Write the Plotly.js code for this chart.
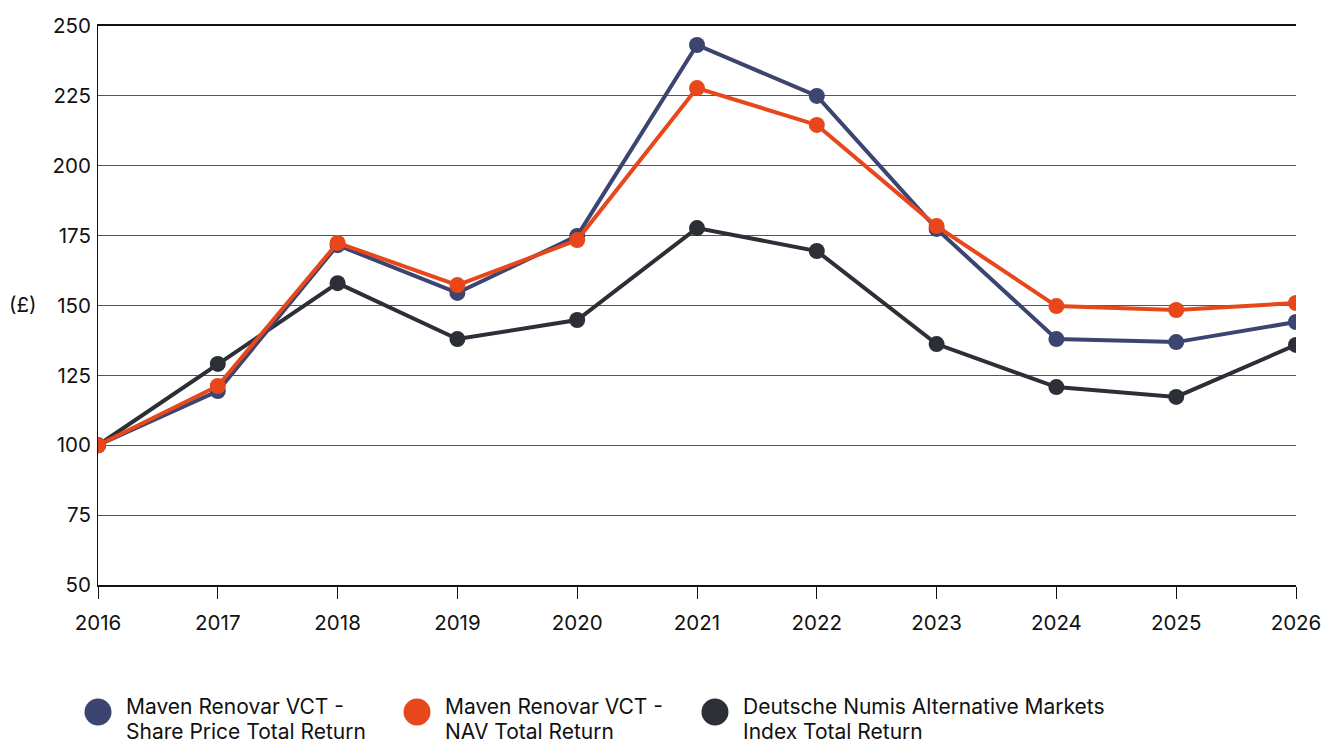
<!DOCTYPE html>
<html>
<head>
<meta charset="utf-8">
<script src="https://cdn.plot.ly/plotly-3.0.1.min.js"></script>
<style>html,body{margin:0;padding:0;background:#fff;}#chart{width:1325px;height:740px;}</style>
</head>
<body>
<div id="chart"></div>
<script>
const years = [2016, 2017, 2018, 2019, 2020, 2021, 2022, 2023, 2024, 2025, 2026];
const sharePrice = [100, 119.4, 171.6, 154.5, 174.9, 243.2, 225.0, 177.4, 138.0, 136.9, 144.1];
const navReturn = [100, 121.2, 172.4, 157.3, 173.4, 227.8, 214.6, 178.4, 149.8, 148.4, 150.9];
const indexReturn = [100, 129.1, 158.0, 138.0, 144.8, 177.7, 169.5, 136.2, 120.8, 117.3, 135.9];
const seriesNames = [
  ['Maven Renovar VCT -', 'Share Price Total Return'],
  ['Maven Renovar VCT -', 'NAV Total Return'],
  ['Deutsche Numis Alternative Markets', 'Index Total Return']
];
const colors = ['#3b456f', '#e8461b', '#2d2f37'];
const yTicks = [50, 75, 100, 125, 150, 175, 200, 225, 250];

const font = 'Inter, "Open Sans", sans-serif';
const FS = 20.5;
const LFS = 21;
function trace(y, i) {
  return {
    x: years, y: y, name: seriesNames[i].join(' '), type: 'scatter', mode: 'lines+markers',
    line: {color: colors[i], width: 4},
    marker: {color: colors[i], size: 16},
    showlegend: false
  };
}
const data = [trace(indexReturn, 2), trace(sharePrice, 0), trace(navReturn, 1)];

// manual legend (large circle symbols like the reference)
const legendX = [0, 0.2663, 0.515];   // paper x of each symbol centre
const legendY = -0.2272;               // paper y of symbol centre
const lineShift = [6, -19];            // pixel offsets of the two text lines
const shapes = [];
const annotations = [];
seriesNames.forEach((lines, i) => {
  shapes.push({
    type: 'circle', xref: 'paper', yref: 'paper',
    xsizemode: 'pixel', ysizemode: 'pixel',
    xanchor: legendX[i], yanchor: legendY,
    x0: -13.5, x1: 13.5, y0: -13.5, y1: 13.5,
    fillcolor: colors[i], line: {width: 0}
  });
  lines.forEach((txt, k) => {
    annotations.push({
      text: txt, xref: 'paper', yref: 'paper',
      x: legendX[i], y: legendY, xshift: 26, yshift: lineShift[k],
      xanchor: 'left', yanchor: 'middle', align: 'left', showarrow: false,
      font: {family: font, size: LFS, color: '#111'}
    });
  });
});
annotations.push({
  text: '(£)', xref: 'paper', yref: 'paper', x: -0.0634, y: 0.501,
  xanchor: 'center', yanchor: 'middle', showarrow: false,
  font: {family: font, size: FS, color: '#111'}
});

const layout = {
  width: 1325, height: 740,
  margin: {l: 98, r: 29, t: 26, b: 155},
  paper_bgcolor: '#fff', plot_bgcolor: '#fff',
  font: {family: font, size: FS, color: '#111'},
  showlegend: false,
  xaxis: {
    range: [2016, 2026], tickvals: years, ticktext: years.map(String),
    showgrid: false, zeroline: false,
    showline: true, linecolor: '#111', linewidth: 2, mirror: true,
    ticks: 'outside', ticklen: 12, tickcolor: '#111', tickwidth: 1,
    ticklabelstandoff: 6,
    tickfont: {family: font, size: FS, color: '#111'}
  },
  yaxis: {
    range: [50, 250], tickvals: yTicks, ticktext: yTicks.map(String),
    showgrid: true, gridcolor: '#555', gridwidth: 1, zeroline: false,
    showline: true, linecolor: '#111', linewidth: 1,
    ticks: '', ticklabelstandoff: 2,
    tickfont: {family: font, size: FS, color: '#111'}
  },
  shapes: shapes,
  annotations: annotations
};
Plotly.newPlot('chart', data, layout, {displayModeBar: false, staticPlot: true});
</script>
</body>
</html>
